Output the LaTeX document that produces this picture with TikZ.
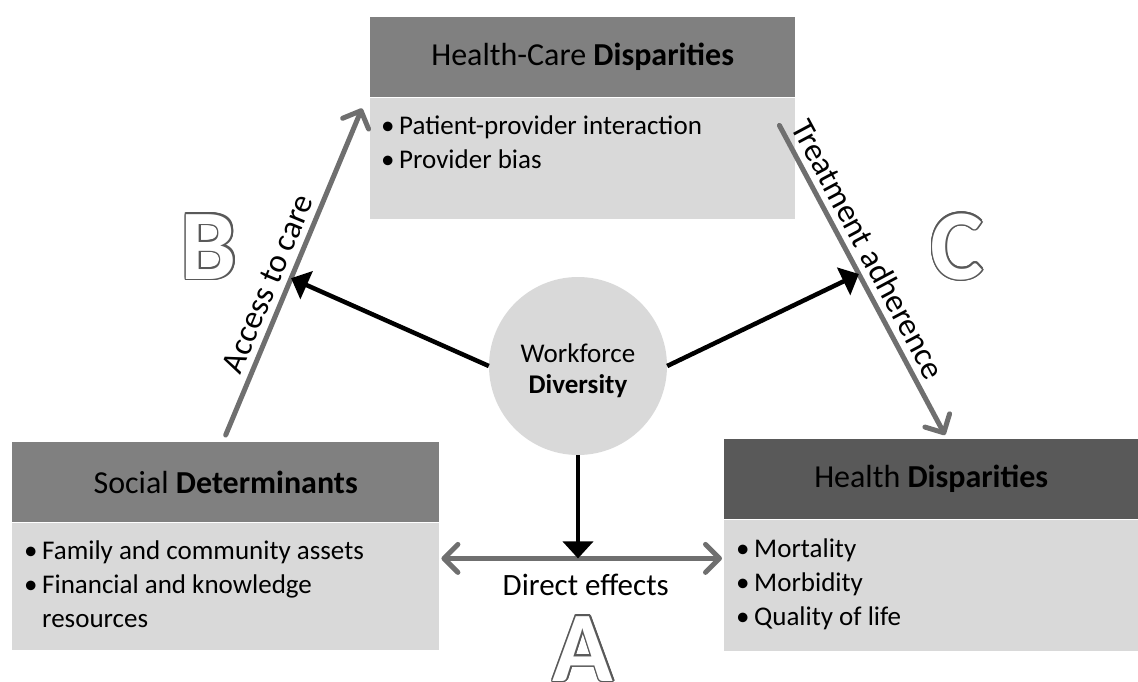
\documentclass[tikz,border=0pt]{standalone}
\usepackage{fontspec}
\setmainfont{Carlito}
\usepackage[copies]{contour}
\usetikzlibrary{arrows.meta,positioning,calc}
\definecolor{hdrgray}{HTML}{808080}
\definecolor{hdrdark}{HTML}{595959}
\definecolor{boxgray}{HTML}{D9D9D9}
\definecolor{linkgray}{HTML}{6F6F6F}
\contourlength{1.5pt}
\newcommand{\bul}{\makebox[18pt][l]{\textbullet}}
\begin{document}
\begin{tikzpicture}[x=1pt,y=-1pt,
  hdr/.style={rectangle,fill=hdrgray,minimum height=80pt,inner sep=0pt,anchor=north west,font=\fontsize{32}{38}\selectfont},
  bodybox/.style={rectangle,fill=boxgray,inner sep=0pt,anchor=north west},
  item/.style={anchor=base west,inner sep=0pt,font=\fontsize{27}{33}\selectfont},
  link/.style={draw=linkgray,line width=5pt,line cap=round,-{Straight Barb[round,length=14pt,width=28pt]}},
  push/.style={draw=black,line width=4.5pt,-{Triangle[length=17pt,width=30pt]}},
  lbl/.style={font=\fontsize{31}{36}\selectfont},
  bigletter/.style={inner sep=0pt,anchor=base,font=\fontsize{100}{104}\selectfont\bfseries}]
\useasboundingbox (0,0) rectangle (1138,682);
% top box
\node[hdr,minimum width=425pt] (hch) at (370,17) {Health-Care \textbf{Disparities}};
\node[bodybox,minimum width=425pt,minimum height=121pt] (hcb) at (hch.south west) {};
\node[item] (hc1) at ($(hcb.north west)+(11,37)$) {\bul Patient-provider interaction};
\node[item] (hc2) at ($(hc1.base west)+(0,34)$) {\bul Provider bias};
% left box
\node[hdr,minimum width=427pt] (sdh) at (12,442) {Social \textbf{Determinants}};
\node[bodybox,minimum width=427pt,minimum height=127pt] (sdb) at (sdh.south west) {};
\node[item] (sd1) at ($(sdb.north west)+(12,37)$) {\bul Family and community assets};
\node[item] (sd2) at ($(sd1.base west)+(0,34)$) {\bul Financial and knowledge};
\node[item] (sd3) at ($(sd2.base west)+(0,34)$) {\hspace*{18pt}resources};
% right box
\node[hdr,fill=hdrdark,minimum width=414pt] (hdh) at (724,439) {Health \textbf{Disparities}};
\node[bodybox,minimum width=414pt,minimum height=131pt] (hdb) at (hdh.south west) {};
\node[item] (hd1) at ($(hdb.north west)+(12,38)$) {\bul Mortality};
\node[item] (hd2) at ($(hd1.base west)+(0,34)$) {\bul Morbidity};
\node[item] (hd3) at ($(hd2.base west)+(0,34)$) {\bul Quality of life};
% centre
\node[circle,fill=boxgray,minimum size=178pt,inner sep=0pt] (wd) at (578,366) {};
\node[align=center,inner sep=0pt,font=\fontsize{27}{31}\selectfont] (wdtxt) at ($(wd)+(0,5)$) {Workforce\\\textbf{Diversity}};
% grey links
\coordinate (acc0) at ($(sdh.north)+(0,-7)$);
\coordinate (acc1) at ($(hcb.north west)+(-8,11)$);
\draw[link] (acc0) -- node[lbl,font=\fontsize{33}{38}\selectfont,sloped,above=3pt,pos=0.44] (acctxt) {Access to care} coordinate[pos=0.48] (accmid) (acc1);
\coordinate (trt0) at ($(hcb.north east)+(-16,28)$);
\coordinate (trt1) at ($(hdh.north west)+(221,-4)$);
\draw[link] (trt0) -- node[lbl,font=\fontsize{33}{38}\selectfont,sloped,above=3pt,pos=0.43] (trttxt) {Treatment adherence} coordinate[pos=0.48] (trtmid) (trt1);
\coordinate (de0) at ($(sdb.north east)+(2,36)$);
\coordinate (de1) at ($(hdb.north west)+(-2,39)$);
\draw[link,{Straight Barb[round,length=14pt,width=28pt]}-{Straight Barb[round,length=14pt,width=28pt]}] (de0) -- node[lbl,below=10pt,midway,xshift=4pt] (detxt) {Direct effects} coordinate[midway] (demid) (de1);
% black arrows
\draw[push] (wd.west) -- (accmid);
\draw[push] (wd.east) -- (trtmid);
\draw[push] (wd.south) -- (wd.south |- demid);
% letters
\node[bigletter] (lB) at (209,279) {\contour{hdrdark}{\color{white}B}};
\node[bigletter] (lC) at (957,279) {\contour{hdrdark}{\color{white}C}};
\node[bigletter] (lA) at (583,681) {\contour{hdrdark}{\color{white}A}};
\end{tikzpicture}
\end{document}
